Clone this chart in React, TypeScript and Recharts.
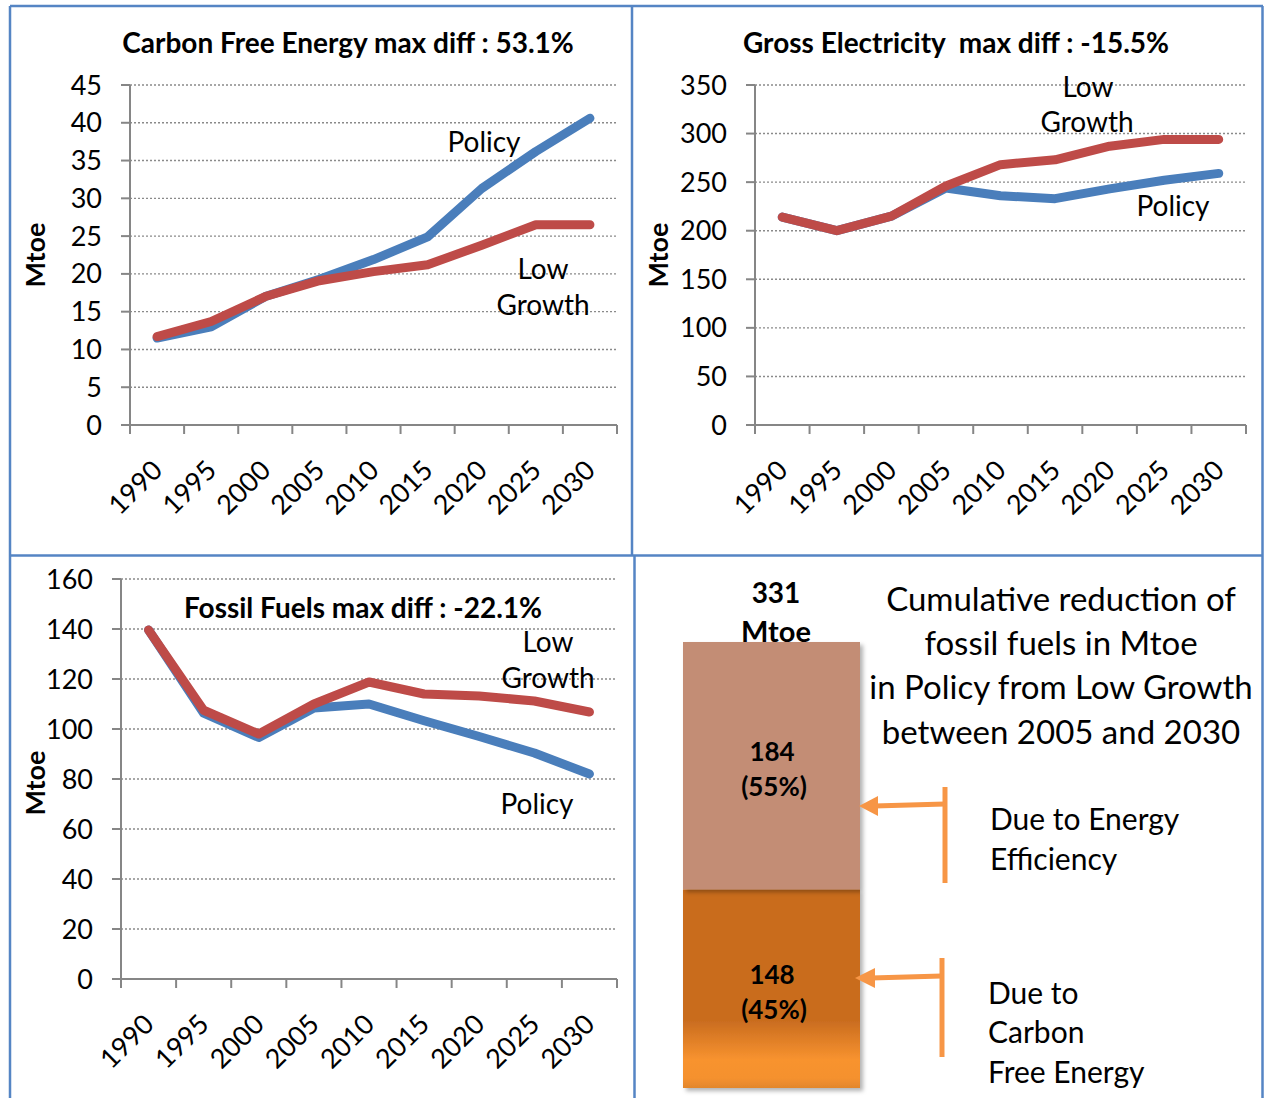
import React from 'react';
import { LineChart, Line, XAxis, YAxis, CartesianGrid, BarChart, Bar } from 'recharts';

// ---------- data ----------
const years = ['1990', '1995', '2000', '2005', '2010', '2015', '2020', '2025', '2030'];

const cfePolicy = [11.5, 13.0, 17.0, 19.3, 21.9, 24.9, 31.3, 36.2, 40.6];
const cfeLow = [11.7, 13.7, 17.0, 19.1, 20.3, 21.2, 23.8, 26.5, 26.5];

const elecPolicy = [214, 200, 215, 244, 236, 233, 243, 252, 259];
const elecLow = [214, 200, 215, 246, 268, 273, 287, 294, 294];

const fossilPolicy = [139.6, 106.3, 96.6, 108.4, 110.0, 103.3, 97.0, 90.4, 82.0];
const fossilLow = [139.6, 107.5, 98.0, 110.0, 118.8, 114.0, 113.2, 111.2, 106.8];

const cfeTicks = [0, 5, 10, 15, 20, 25, 30, 35, 40, 45];
const elecTicks = [0, 50, 100, 150, 200, 250, 300, 350];
const fossilTicks = [0, 20, 40, 60, 80, 100, 120, 140, 160];

const reductionCategories = ['Cumulative reduction'];
const reductionCFE = [148];
const reductionEE = [184];

// ---------- styles ----------
const FONT = 'Lato, "Open Sans", "DejaVu Sans", sans-serif';
const AXIS = '#868686';
const BLUE = '#4A7EBB';
const RED = '#BE4B48';
const FRAME = '#5585C4';
const ORANGE = '#F79646';

const buildData = (policy: number[], low: number[]) =>
  years.map((y, i) => ({ pos: i + 0.5, year: y, policy: policy[i], low: low[i] }));

const xTicks: number[] = [];
years.forEach((_, i) => {
  xTicks.push(i, i + 0.5);
});
xTicks.push(years.length);

const XTick = (props: any) => {
  const { x, y, payload } = props;
  const v = payload.value as number;
  if (Number.isInteger(v)) {
    return <line x1={x} x2={x} y1={y} y2={y + 9} stroke={AXIS} strokeWidth={2} />;
  }
  const label = years[Math.floor(v)];
  const ax = x + 7;
  const ay = y + 47;
  return (
    <text
      x={ax}
      y={ay}
      textAnchor="end"
      transform={`rotate(-45 ${ax} ${ay})`}
      fontSize={27}
      fontFamily={FONT}
      fill="#000"
    >
      {label}
    </text>
  );
};

type PanelProps = {
  left: number;
  top: number;
  width: number;
  height: number;
  margin: { top: number; right: number; bottom: number; left: number };
  ticks: number[];
  policy: number[];
  low: number[];
};

const LinePanel = ({ left, top, width, height, margin, ticks, policy, low }: PanelProps) => (
  <div style={{ position: 'absolute', left, top, width, height }}>
    <LineChart width={width} height={height} data={buildData(policy, low)} margin={margin}>
      <CartesianGrid vertical={false} stroke="#8a8a8a" strokeDasharray="2 2" strokeWidth={1.4} />
      <XAxis
        type="number"
        dataKey="pos"
        domain={[0, years.length]}
        ticks={xTicks}
        interval={0}
        tickLine={false}
        tickSize={0}
        tickMargin={0}
        height={100}
        axisLine={{ stroke: AXIS, strokeWidth: 2 }}
        tick={XTick}
      />
      <YAxis
        domain={[ticks[0], ticks[ticks.length - 1]]}
        ticks={ticks}
        interval={0}
        width={60}
        tickSize={9}
        tickMargin={19}
        axisLine={{ stroke: AXIS, strokeWidth: 2 }}
        tickLine={{ stroke: AXIS, strokeWidth: 2 }}
        tick={{ fontSize: 27, fill: '#000', fontFamily: FONT }}
      />
      <Line
        type="linear"
        dataKey="policy"
        stroke={BLUE}
        strokeWidth={9}
        dot={false}
        strokeLinejoin="round"
        strokeLinecap="round"
        isAnimationActive={false}
      />
      <Line
        type="linear"
        dataKey="low"
        stroke={RED}
        strokeWidth={9}
        dot={false}
        strokeLinejoin="round"
        strokeLinecap="round"
        isAnimationActive={false}
      />
    </LineChart>
  </div>
);

const barData = reductionCategories.map((c, i) => ({ name: c, cfe: reductionCFE[i], ee: reductionEE[i] }));

const T = (p: any) => (
  <text
    x={p.x}
    y={p.y}
    textAnchor={p.anchor || 'middle'}
    fontSize={p.size || 25}
    fontWeight={p.bold ? 700 : 400}
    fontFamily={FONT}
    fill="#000"
    style={{ whiteSpace: 'pre' }}
    transform={p.rotate ? `rotate(-90 ${p.x} ${p.y})` : undefined}
  >
    {p.children}
  </text>
);

export default function App() {
  return (
    <div style={{ position: 'absolute', left: 0, top: 0, width: 1264, height: 1098, background: '#fff', overflow: 'hidden' }}>
      <LinePanel
        left={0}
        top={0}
        width={632}
        height={555}
        margin={{ top: 85, right: 15, bottom: 30, left: 70 }}
        ticks={cfeTicks}
        policy={cfePolicy}
        low={cfeLow}
      />
      <LinePanel
        left={632}
        top={0}
        width={632}
        height={555}
        margin={{ top: 85, right: 18, bottom: 30, left: 63 }}
        ticks={elecTicks}
        policy={elecPolicy}
        low={elecLow}
      />
      <LinePanel
        left={0}
        top={555}
        width={634}
        height={543}
        margin={{ top: 24, right: 17, bottom: 19, left: 61 }}
        ticks={fossilTicks}
        policy={fossilPolicy}
        low={fossilLow}
      />
      <div style={{ position: 'absolute', left: 634, top: 555, width: 630, height: 543 }}>
        <BarChart width={630} height={543} data={barData} margin={{ top: 87, right: 404, bottom: 10, left: 49 }} barCategoryGap={0}>
          <defs>
            <linearGradient id="cfeGrad" x1="0" y1="0" x2="0" y2="1">
              <stop offset="0" stopColor="#C96C1F" />
              <stop offset="0.66" stopColor="#C96C1F" />
              <stop offset="0.86" stopColor="#F8932F" />
              <stop offset="0.95" stopColor="#F5912E" />
              <stop offset="1" stopColor="#E2862C" />
            </linearGradient>
            <filter id="barShadow" x="-10%" y="-10%" width="130%" height="130%">
              <feDropShadow dx="3" dy="3" stdDeviation="2" floodColor="#000" floodOpacity="0.3" />
            </filter>
          </defs>
          <XAxis dataKey="name" hide />
          <YAxis hide domain={[0, reductionCFE[0] + reductionEE[0]]} />
          <Bar dataKey="cfe" stackId="a" fill="url(#cfeGrad)" isAnimationActive={false} style={{ filter: 'url(#barShadow)' }} />
          <Bar dataKey="ee" stackId="a" fill="#C38D74" isAnimationActive={false} style={{ filter: 'url(#barShadow)' }} />
        </BarChart>
      </div>

      <svg width={1264} height={1098} style={{ position: 'absolute', left: 0, top: 0, pointerEvents: 'none' }}>
        {/* frames */}
        <line x1={10} y1={6} x2={1263} y2={6} stroke={FRAME} strokeWidth={2.5} />
        <line x1={10} y1={6} x2={10} y2={1098} stroke={FRAME} strokeWidth={2.5} />
        <line x1={1262.5} y1={6} x2={1262.5} y2={1098} stroke={FRAME} strokeWidth={2.5} />
        <line x1={632} y1={6} x2={632} y2={556} stroke={FRAME} strokeWidth={2.5} />
        <line x1={634.5} y1={556} x2={634.5} y2={1098} stroke={FRAME} strokeWidth={2.5} />
        <line x1={10} y1={555.5} x2={1263} y2={555.5} stroke={FRAME} strokeWidth={2.5} />

        {/* titles */}
        <T x={348} y={53} bold size={28}>Carbon Free Energy max diff : 53.1%</T>
        <T x={956} y={53} bold size={28}>{'Gross Electricity  max diff : -15.5%'}</T>
        <T x={363} y={618} bold size={28}>Fossil Fuels max diff : -22.1%</T>

        {/* y labels */}
        <T x={45} y={255} bold size={27} rotate>Mtoe</T>
        <T x={668} y={255} bold size={27} rotate>Mtoe</T>
        <T x={45} y={783} bold size={27} rotate>Mtoe</T>

        {/* series annotations */}
        <T x={484} y={152} size={28}>Policy</T>
        <T x={543} y={279} size={28}>Low</T>
        <T x={543} y={315} size={28}>Growth</T>

        <T x={1088} y={97} size={28}>Low</T>
        <T x={1087} y={132} size={28}>Growth</T>
        <T x={1173} y={216} size={28}>Policy</T>

        <T x={548} y={652} size={28}>Low</T>
        <T x={548} y={688} size={28}>Growth</T>
        <T x={537} y={814} size={28}>Policy</T>

        {/* bar panel */}
        <T x={776} y={603} bold size={28}>331</T>
        <T x={776} y={642} bold size={29}>Mtoe</T>
        <T x={772} y={761} bold size={26}>184</T>
        <T x={774} y={796} bold size={26}>(55%)</T>
        <T x={772} y={984} bold size={26}>148</T>
        <T x={774} y={1019} bold size={26}>(45%)</T>

        <T x={1061} y={611} size={33}>Cumulative reduction of</T>
        <T x={1061} y={655} size={33}>fossil fuels in Mtoe</T>
        <T x={1061} y={699} size={33}>in Policy from Low Growth</T>
        <T x={1061} y={744} size={33}>between 2005 and 2030</T>

        <T x={990} y={830} anchor="start" size={30}>Due to Energy</T>
        <T x={990} y={870} anchor="start" size={30}>Efficiency</T>
        <T x={988} y={1004} anchor="start" size={30}>Due to</T>
        <T x={988} y={1043} anchor="start" size={30}>Carbon</T>
        <T x={988} y={1083} anchor="start" size={30}>Free Energy</T>

        {/* arrows */}
        <line x1={945} y1={787} x2={945} y2={883} stroke={ORANGE} strokeWidth={5} />
        <line x1={945} y1={804} x2={874} y2={806} stroke={ORANGE} strokeWidth={5} />
        <polygon points="859,806 878,796 878,816" fill={ORANGE} />
        <line x1={942} y1={958} x2={942} y2={1057} stroke={ORANGE} strokeWidth={5} />
        <line x1={942} y1={976} x2={871} y2={978} stroke={ORANGE} strokeWidth={5} />
        <polygon points="855,978 875,968 875,988" fill={ORANGE} />
      </svg>
    </div>
  );
}
